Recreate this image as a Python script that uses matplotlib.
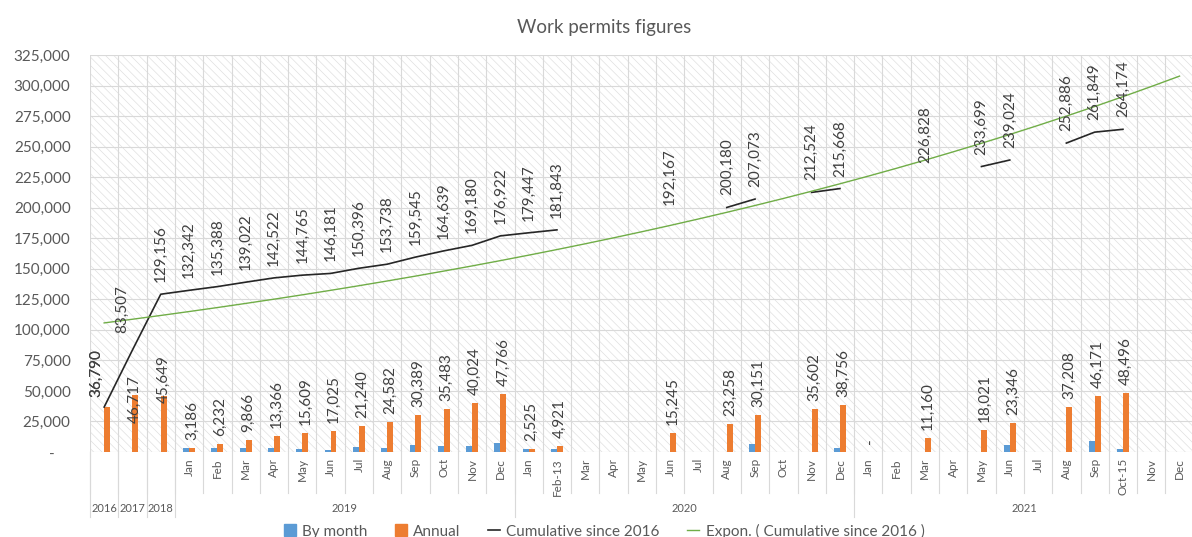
import numpy as np
import matplotlib.pyplot as plt
from matplotlib.patches import Rectangle, Patch
from matplotlib.lines import Line2D

plt.rcParams['font.family'] = ['Lato', 'DejaVu Sans']
plt.rcParams['hatch.linewidth'] = 0.5

nan = np.nan

years = ["2016", "2017", "2018", "2019", "2020", "2021"]
months_2019 = ["Jan", "Feb", "Mar", "Apr", "May", "Jun", "Jul", "Aug", "Sep", "Oct", "Nov", "Dec"]
months_2020 = ["Jan", "Feb-13", "Mar", "Apr", "May", "Jun", "Jul", "Aug", "Sep", "Oct", "Nov", "Dec"]
months_2021 = ["Jan", "Feb", "Mar", "Apr", "May", "Jun", "Jul", "Aug", "Sep", "Oct-15", "Nov", "Dec"]
months = [[""], [""], [""], months_2019, months_2020, months_2021]

by_month = [nan, nan, nan,
            3186, 3046, 3634, 3500, 2243, 1416, 4215, 3342, 5807, 5094, 4541, 7742,
            2525, 2396, nan, nan, nan, nan, nan, nan, 6893, nan, nan, 3154,
            nan, nan, nan, nan, nan, 5325, nan, nan, 8963, 2325, nan, nan]

annual = [36790, 46717, 45649,
          3186, 6232, 9866, 13366, 15609, 17025, 21240, 24582, 30389, 35483, 40024, 47766,
          2525, 4921, nan, nan, nan, 15245, nan, 23258, 30151, nan, 35602, 38756,
          0, nan, 11160, nan, 18021, 23346, nan, 37208, 46171, 48496, nan, nan]

cumulative = [36790, 83507, 129156,
              132342, 135388, 139022, 142522, 144765, 146181, 150396, 153738, 159545, 164639, 169180, 176922,
              179447, 181843, nan, nan, nan, 192167, nan, 200180, 207073, nan, 212524, 215668,
              nan, nan, 226828, nan, 233699, 239024, nan, 252886, 261849, 264174, nan, nan]

by_month = np.array(by_month, dtype=float)
annual = np.array(annual, dtype=float)
cumulative = np.array(cumulative, dtype=float)
n = len(annual)
x = np.arange(n)

# Excel-style exponential trendline on the cumulative series
ok = ~np.isnan(cumulative)
b, a = np.polyfit(x[ok] + 1, np.log(cumulative[ok]), 1)
trend = np.exp(a + b * (x + 1))

BLUE = "#5B9BD5"
ORANGE = "#ED7D31"
GREEN = "#70AD47"
GRID = "#d9d9d9"
TXT = "#595959"
LBL = "#404040"

fig = plt.figure(figsize=(11.92, 5.37), dpi=100)
W, H = 1192, 537
ax = fig.add_axes([90 / W, 85 / H, 1102 / W, 397 / H])
cat_px = 28.3
ax.set_xlim(-0.5, -0.5 + 1102 / cat_px)
ax.set_ylim(0, 325000)

# hatched plot background
ax.add_patch(Rectangle((0, 0), 1, 1, transform=ax.transAxes, facecolor="white",
                       edgecolor="#e0e0e0", hatch="\\\\\\\\", linewidth=0, zorder=0))

yt = np.arange(0, 325001, 25000)
ax.set_yticks(yt)
ax.set_yticklabels([f"{v:,}" if v else "-    " for v in yt])
ax.tick_params(axis="y", length=0, pad=14, labelsize=11, labelcolor=TXT)
ax.set_xticks([])
for s in ax.spines.values():
    s.set_visible(False)
for v in yt:
    ax.axhline(v, color=GRID, lw=0.8, zorder=0.5)
for v in np.arange(-0.5, n, 1.0):
    ax.axvline(v, color=GRID, lw=0.8, zorder=0.5)

bw = 0.21
ax.bar(x - bw / 2, by_month, width=bw, color=BLUE, zorder=2)
ax.bar(x + bw / 2, annual, width=bw, color=ORANGE, zorder=2)
ax.plot(x, cumulative, color="#262626", lw=1.2, zorder=3)
ax.plot(x, trend, color=GREEN, lw=1.0, zorder=3)

def fmt(v):
    return f"{v:,.0f}" if v else "-"

# manual label nudges (pixels), as in the source chart
annual_nudge = {0: (-11, 10), 1: (-1, -28), 2: (0, -7)}
cum_nudge = {0: (-8, 10), 1: (-10, 17)}

for i, v in enumerate(annual):
    if np.isnan(v):
        continue
    dx, dy = annual_nudge.get(i, (0, 8))
    ax.annotate(fmt(v), (i + bw / 2, v), xytext=(dx, dy), textcoords="offset pixels",
                rotation=90, ha="center", va="bottom", fontsize=11, color=LBL, zorder=4)
for i, v in enumerate(cumulative):
    if np.isnan(v):
        continue
    dx, dy = cum_nudge.get(i, (0, 12))
    ax.annotate(fmt(v), (i, v), xytext=(dx, dy), textcoords="offset pixels",
                rotation=90, ha="center", va="bottom", fontsize=11, color=LBL, zorder=4)

# multi-level category axis
tr = ax.get_xaxis_transform()
px = 1 / 397
pos = 0
for yr, ms in zip(years, months):
    start = pos
    for m in ms:
        ax.plot([pos - 0.5, pos - 0.5], [0, -41 * px], color=GRID, lw=0.8,
                transform=tr, clip_on=False)
        if m:
            ax.text(pos, -6 * px, m, rotation=90, ha="center", va="top", fontsize=8.5,
                    color=TXT, transform=tr)
        pos += 1
    ax.plot([start - 0.5, start - 0.5], [0, -65 * px], color=GRID, lw=0.8,
            transform=tr, clip_on=False)
    ax.text((start + pos - 1) / 2, -56 * px, yr, ha="center", va="center", fontsize=8,
            color=TXT, transform=tr)
ax.plot([pos - 0.5, pos - 0.5], [0, -65 * px], color=GRID, lw=0.8, transform=tr, clip_on=False)

fig.text(604 / W, 1 - 28 / H, "Work permits figures", ha="center", va="center",
         fontsize=13.5, color=TXT)

handles = [Patch(color=BLUE), Patch(color=ORANGE),
           Line2D([], [], color="#262626", lw=1.2), Line2D([], [], color=GREEN, lw=1.0)]
labels = ["By month", "Annual", "Cumulative since 2016", "Expon. ( Cumulative since 2016 )"]
leg = fig.legend(handles, labels, loc="center", bbox_to_anchor=(604 / W, 6 / H), ncol=4,
                 frameon=False, fontsize=11, handlelength=0.8, handleheight=0.8,
                 handletextpad=0.4, columnspacing=1.8)
for t in leg.get_texts():
    t.set_color(TXT)

fig.savefig("out.png", dpi=100)
